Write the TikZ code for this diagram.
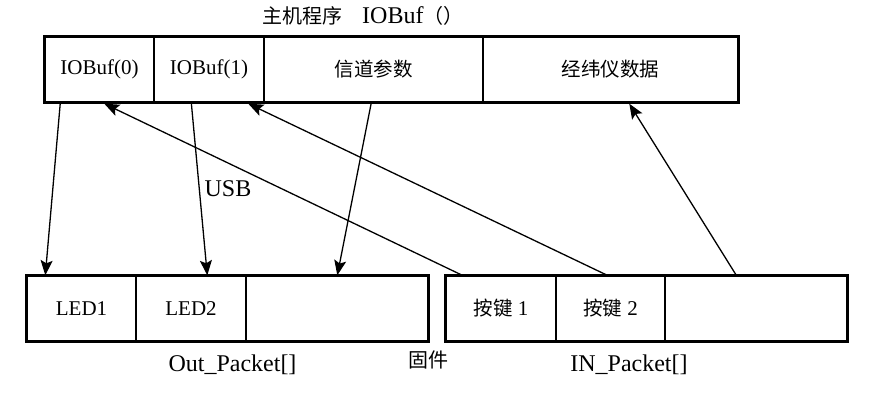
\documentclass[tikz,border=0pt]{standalone}
\usepackage{fontspec}
\setmainfont{Liberation Serif}
\newfontfamily\cjk{Noto Sans CJK SC}
\usetikzlibrary{arrows.meta,calc}
\begin{document}
\begin{tikzpicture}[x=1pt,y=-1pt,
  cell/.style={draw,line width=1.4pt,rectangle,inner sep=0pt,minimum height=65pt,
    font=\fontsize{21}{24}\selectfont},
  frame/.style={line width=2.6pt},
  conn/.style={line width=1.3pt,-{Stealth[length=15pt,width=12pt,inset=3pt]}},
  lbl/.style={font=\fontsize{24}{26}\selectfont,inner sep=0pt}]
\useasboundingbox (0,0) rectangle (878,400);
% top row
\node[cell,minimum width=109pt] (c1) at (99.5,69.5) {IOBuf(0)};
\node[cell,minimum width=110pt] (c2) at (209,69.5) {IOBuf(1)};
\node[cell,minimum width=219pt] (c3) at (373.5,69.5) {{\cjk\fontsize{19.5}{22}\selectfont 信道参数}};
\node[cell,minimum width=255pt] (c4) at (610.5,69.5) {{\cjk\fontsize{19.5}{22}\selectfont 经纬仪数据}};
\draw[frame] (c1.north west) rectangle (c4.south east);
% bottom left
\node[cell,minimum width=109pt] (d1) at (81.5,308.5) {LED1};
\node[cell,minimum width=110pt] (d2) at (191,308.5) {LED2};
\node[cell,minimum width=182pt] (d3) at (337,308.5) {};
\draw[frame] (d1.north west) rectangle (d3.south east);
% bottom right
\node[cell,minimum width=110pt] (e1) at (501,308.5) {{\cjk\fontsize{19.5}{22}\selectfont 按键} 1};
\node[cell,minimum width=109pt] (e2) at (610.5,308.5) {{\cjk\fontsize{19.5}{22}\selectfont 按键} 2};
\node[cell,minimum width=182pt] (e3) at (756,308.5) {};
\draw[frame] (e1.north west) rectangle (e3.south east);
% labels
\node[lbl,anchor=west] (title) at (262,16) {{\cjk\fontsize{20}{22}\selectfont 主机程序　}IOBuf{\cjk\fontsize{20}{22}\selectfont （）}};
\node[lbl] (usb) at (228,189) {USB};
\node[lbl] (outp) at (232.5,365) {Out\_Packet[]};
\node[lbl] (fw) at (428,360) {{\cjk\fontsize{20}{22}\selectfont 固件}};
\node[lbl] (inp) at (629,365) {IN\_Packet[]};
% connectors
\draw[conn] ($(c1.south west)+(16,0)$) -- ($(d1.north west)+(19,0)$);
\draw[conn] ($(c2.south west)+(38,0)$) -- ($(d2.north west)+(72,0)$);
\draw[conn] ($(c3.south west)+(108,0)$) -- ($(d3.north west)+(92,0)$);
\draw[conn] ($(e1.north west)+(17,0)$) -- ($(c1.south west)+(60,1)$);
\draw[conn] ($(e2.north west)+(52,0)$) -- ($(c2.south west)+(95,1)$);
\draw[conn] ($(e3.north west)+(72,0)$) -- ($(c4.south west)+(147,1)$);
\end{tikzpicture}
\end{document}
